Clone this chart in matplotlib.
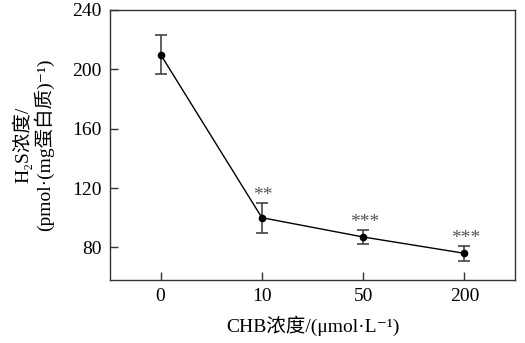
import matplotlib
matplotlib.use("Agg")
import matplotlib.pyplot as plt

plt.rcParams['font.family'] = ['Liberation Serif', 'Noto Sans CJK SC', 'DejaVu Serif']

categories = ["0", "10", "50", "200"]
h2s = [210, 100, 87, 76]
h2s_err = [13, 10, 5, 5]
signif = ["", "**", "***", "***"]
y_ticks = [80, 120, 160, 200, 240]

fig = plt.figure(figsize=(5.25, 3.43), dpi=100)
ax = fig.add_axes([110 / 525, 63 / 343, 405 / 525, 270 / 343])

x = list(range(len(categories)))
ax.plot(x, h2s, color="black", lw=1.0, zorder=2)
ax.errorbar(x, h2s, yerr=h2s_err, fmt="none", ecolor="#444444",
            elinewidth=1.2, capsize=4, capthick=1.2, zorder=1)
ax.plot(x, h2s, "o", color="black", ms=4.5, zorder=3)

for xi, v, e, s in zip(x, h2s, h2s_err, signif):
    if s:
        ax.annotate(s, (xi, v + e), xytext=(1, -1), textcoords="offset points",
                    ha="center", va="bottom", fontsize=14, color="#555555")

ax.set_xlim(-0.5, 3.5)
ax.set_ylim(58, 240)
ax.set_xticks(x)
ax.set_xticklabels(categories)
ax.set_yticks(y_ticks)
ax.tick_params(direction="in", length=6, width=1, color="#333333",
               labelsize=14, pad=6)
for sp in ax.spines.values():
    sp.set_color("#333333")
    sp.set_linewidth(1.0)

ax.set_xlabel("CHB浓度/(μmol·L⁻¹)", fontsize=14, labelpad=7)
ax.set_ylabel("H₂S浓度/\n(pmol·(mg蛋白质)⁻¹)", fontsize=14,
              labelpad=13, linespacing=1.05)

fig.savefig("out.png", dpi=100)
